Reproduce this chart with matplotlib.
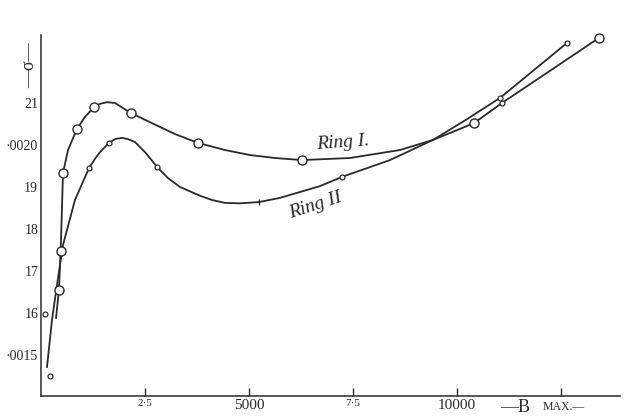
import matplotlib.pyplot as plt

# Ring I: smooth curve as traced, and the large open-circle observations
ring1_curve_b = [361, 433, 481, 529, 649, 865, 1058, 1274, 1418, 1587, 1779,
                 2164, 2500, 2861, 3221, 3774, 4423, 5024, 5626, 6274, 7428,
                 8630, 9424, 10409, 11082, 13414]
ring1_curve_s = [15.88, 16.55, 17.74, 19.33, 19.88, 20.38, 20.67, 20.90, 20.98,
                 21.02, 21.00, 20.76, 20.60, 20.43, 20.26, 20.05, 19.88, 19.76,
                 19.69, 19.64, 19.69, 19.88, 20.12, 20.52, 21.00, 22.55]
ring1_pts_b = [433, 481, 529, 865, 1274, 2164, 3774, 6274, 10409, 13414]
ring1_pts_s = [16.55, 17.48, 19.33, 20.38, 20.90, 20.76, 20.05, 19.64, 20.52, 22.55]

# Ring II: smooth curve and the small open-circle observations
ring2_curve_b = [144, 264, 385, 529, 817, 1154, 1298, 1418, 1635, 1779, 1947,
                 2091, 2260, 2500, 2789, 3053, 3342, 3822, 4110, 4423, 4784,
                 5241, 5746, 6226, 6707, 7236, 8390, 9424, 10217, 11034, 12645]
ring2_curve_s = [14.71, 15.83, 16.67, 17.62, 18.69, 19.45, 19.67, 19.83, 20.05,
                 20.14, 20.17, 20.14, 20.07, 19.83, 19.48, 19.21, 19.00, 18.79,
                 18.69, 18.62, 18.61, 18.64, 18.74, 18.88, 19.02, 19.24, 19.64,
                 20.12, 20.60, 21.12, 22.43]
ring2_pts_b = [216, 96, 1154, 1635, 2789, 7236, 11034, 11082, 12645]
ring2_pts_s = [14.50, 15.98, 19.45, 20.05, 19.48, 19.24, 21.12, 21.00, 22.43]
ring2_tick_b = [5241]
ring2_tick_s = [18.64]

xticks = [2500, 5000, 7500, 10000, 12500]
xtick_labels = ["2·5", "5000", "7·5", "10000", ""]
yticks = [15, 16, 17, 18, 19, 20, 21]
ytick_labels = ["·0015", "16", "17", "18", "19", "·0020", "21"]

plt.rcParams["font.family"] = ["Liberation Serif", "DejaVu Serif"]
ink = "#2a2a2a"

fig = plt.figure(figsize=(6.25, 4.16), dpi=100)
ax = fig.add_axes([41 / 625, 20 / 416, 579 / 625, 361 / 416])

ax.plot(ring1_curve_b, ring1_curve_s, color=ink, lw=1.3)
ax.plot(ring2_curve_b, ring2_curve_s, color=ink, lw=1.3)
ax.plot(ring1_pts_b, ring1_pts_s, ls="none", marker="o", ms=6.5,
        mfc="white", mec=ink, mew=1.0, clip_on=False)
ax.plot(ring2_pts_b, ring2_pts_s, ls="none", marker="o", ms=3.5,
        mfc="white", mec=ink, mew=0.9, clip_on=False)
ax.plot(ring2_tick_b, ring2_tick_s, ls="none", marker="|", ms=4,
        mec=ink, mew=1.0)

ax.set_xlim(0, 13920)
ax.set_ylim(14.02, 22.62)

for side in ("top", "right"):
    ax.spines[side].set_visible(False)
for side in ("left", "bottom"):
    ax.spines[side].set_color(ink)
    ax.spines[side].set_linewidth(1.1)

ax.set_xticks(xticks)
ax.set_xticklabels(xtick_labels)
for lbl, txt in zip(ax.get_xticklabels(), xtick_labels):
    lbl.set_fontsize(8 if "·" in txt else 11)
ax.tick_params(axis="x", direction="in", length=6, width=1, color=ink,
               pad=2, labelcolor=ink)
ax.set_yticks(yticks)
ax.set_yticklabels(ytick_labels)
ax.tick_params(axis="y", length=0, pad=2, labelsize=10, labelcolor=ink)

ax.text(-280, 21.9, "—σ—", rotation=90, fontsize=13, color=ink,
        ha="center", va="center", clip_on=False)

ax.text(7260, 20.05, "Ring I.", fontsize=14, style="italic", color=ink,
        rotation=4, ha="center", va="center")
ax.text(6590, 18.55, "Ring II", fontsize=14, style="italic", color=ink,
        rotation=18, ha="center", va="center")

ax.text(11050, 14.02 - 0.28, "—B", fontsize=13, color=ink,
        ha="left", va="center", clip_on=False)
ax.text(12050, 14.02 - 0.26, "MAX.—", fontsize=8.5, color=ink,
        ha="left", va="center", clip_on=False)

fig.savefig("out.png", dpi=100, facecolor="white")
